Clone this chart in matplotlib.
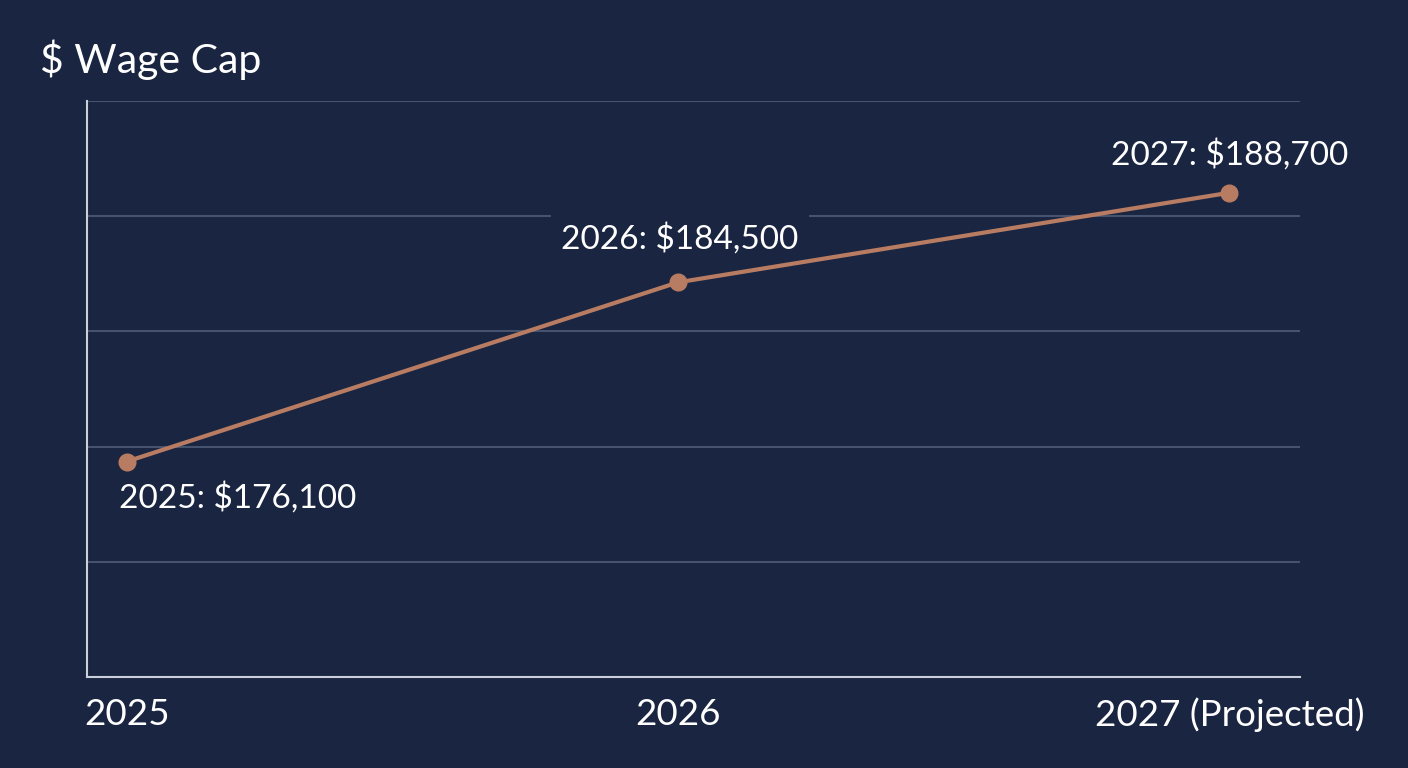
import numpy as np
import matplotlib
matplotlib.use("Agg")
import matplotlib.pyplot as plt

# chart data
years = ["2025", "2026", "2027 (Projected)"]
wage_cap = [176100, 184500, 188700]
point_labels = ["2025: $176,100", "2026: $184,500", "2027: $188,700"]

BG = "#1a2541"
LINE = "#b87c62"
GRID = "#45536f"
SPINE = "#c9d0dc"

plt.rcParams["font.family"] = ["Lato", "DejaVu Sans"]

fig = plt.figure(figsize=(14.08, 7.68), dpi=100, facecolor=BG)
ax = fig.add_axes([87 / 1408, 1 - 677 / 768, 1213 / 1408, 576 / 768])
ax.set_facecolor(BG)

x = np.arange(len(years))
ax.plot(x, wage_cap, color=LINE, lw=3, marker="o", ms=12, zorder=3)

ax.set_xlim(-0.072, 2.128)
ax.set_ylim(166000, 193000)
ax.set_yticks(np.linspace(166000, 193000, 6)[1:])
ax.yaxis.grid(True, color=GRID, lw=1.5)
ax.set_axisbelow(True)
ax.tick_params(axis="y", left=False, labelleft=False)
ax.set_xticks(x)
ax.set_xticklabels(years, fontsize=26.5, color="white")
ax.tick_params(axis="x", length=0, pad=15)

for side in ["top", "right"]:
    ax.spines[side].set_visible(False)
for side in ["left", "bottom"]:
    ax.spines[side].set_color(SPINE)
    ax.spines[side].set_linewidth(1.5)

# point labels, boxed in the background colour so they break the gridlines
offsets = [(-8, -36), (2, 44), (0, 38)]
aligns = ["left", "center", "center"]
for i in range(len(years)):
    ax.annotate(point_labels[i], (x[i], wage_cap[i]), xytext=offsets[i],
                textcoords="offset pixels", ha=aligns[i], va="center",
                fontsize=24, color="white", zorder=2,
                bbox=dict(boxstyle="square,pad=0.3", fc=BG, ec="none"))

fig.text(40 / 1408, 1 - 73 / 768, "$ Wage Cap", fontsize=29.5, color="white",
         ha="left", va="baseline")

fig.savefig("out.png", dpi=100, facecolor=BG)
